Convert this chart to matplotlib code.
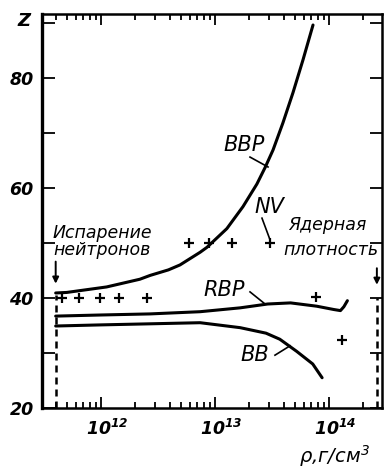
import numpy as np
import matplotlib
matplotlib.use('Agg')
import matplotlib.pyplot as plt
from matplotlib.transforms import ScaledTranslation

plt.rcParams.update({
    'font.family': 'DejaVu Sans',
    'mathtext.fontset': 'custom',
    'mathtext.rm': 'DejaVu Sans:italic:bold',
    'mathtext.it': 'DejaVu Sans:italic:bold',
    'mathtext.bf': 'DejaVu Sans:italic:bold',
})

# curves: density (g/cm^3) and Z
rho_bbp = [4.0e11, 5.0e11, 1.12e12, 2.19e12, 2.7e12, 3.9e12, 4.93e12, 7.4e12,
           8.5e12, 1.27e13, 1.76e13, 2.33e13, 2.75e13, 3.23e13, 3.94e13,
           4.83e13, 5.92e13, 7.24e13]
z_bbp = [40.9, 41.0, 42.0, 43.4, 44.1, 45.1, 46.0, 48.3,
         49.2, 52.6, 56.6, 60.7, 63.7, 66.9, 71.8,
         77.3, 83.3, 89.6]

rho_rbp = [4.0e11, 9.8e11, 2.7e12, 7.4e12, 1.66e13, 2.9e13, 4.6e13, 7.8e13,
           1.1e14, 1.26e14, 1.35e14, 1.45e14]
z_rbp = [36.7, 36.9, 37.1, 37.5, 38.2, 38.9, 39.1, 38.5, 37.9, 37.7, 38.4, 39.5]

rho_bb = [4.0e11, 9.8e11, 2.7e12, 7.4e12, 1.66e13, 2.8e13, 3.7e13, 5.2e13, 7.2e13, 8.7e13]
z_bb = [34.9, 35.1, 35.3, 35.5, 34.6, 33.6, 32.5, 30.3, 28.0, 25.5]

# NV points
rho_nv = [4.55e11, 6.4e11, 9.8e11, 1.44e12, 2.54e12,
          5.9e12, 8.9e12, 1.41e13, 3.03e13, 7.7e13, 1.3e14]
z_nv = [40, 40, 40, 40, 40, 50, 50, 50, 50, 40.2, 32.4]

rho_drip = 4.0e11      # neutron drip
rho_nuc = 2.63e14      # nuclear density

fig = plt.figure(figsize=(3.84, 4.69), dpi=100)
ax = fig.add_axes([42/384, 61/469, 340/384, 394/469])

lw = 2.2
ax.plot(rho_bbp, z_bbp, color='k', lw=lw, solid_capstyle='round', solid_joinstyle='round')
ax.plot(rho_rbp, z_rbp, color='k', lw=lw, solid_capstyle='round', solid_joinstyle='round')
ax.plot(rho_bb, z_bb, color='k', lw=lw, solid_capstyle='round', solid_joinstyle='round')
ax.plot(rho_nv, z_nv, ls='none', marker='+', ms=7, mew=1.6, color='k')

# dashed limits with arrows
dash = (0, (2.8, 2.0))
ax.plot([rho_drip, rho_drip], [20, 40.5], color='k', lw=1.8, ls=dash)
ax.plot([rho_nuc, rho_nuc], [20, 40.0], color='k', lw=1.8, ls=dash)
ap = dict(arrowstyle='-|>', lw=1.4, color='k', mutation_scale=9, shrinkA=0, shrinkB=0)
ax.annotate('', xy=(rho_drip, 42.6), xytext=(rho_drip, 46.6), arrowprops=ap)
ax.annotate('', xy=(rho_nuc, 42.4), xytext=(rho_nuc, 45.4), arrowprops=ap)

# labels and leaders
tk = dict(fontsize=15, style='italic', ha='center', va='center')
ax.text(1.8e13, 67.8, 'BBP', **tk)
ax.plot([10**13.307, 10**13.465], [65.6, 63.8], color='k', lw=1.2)
ax.text(2.98e13, 56.5, 'NV', **tk)
ax.plot([10**13.412, 10**13.482], [54.5, 50.6], color='k', lw=1.2)
ax.text(1.2e13, 41.5, 'RBP', **tk)
ax.plot([10**13.307, 10**13.439], [41.1, 38.9], color='k', lw=1.2)
ax.text(2.24e13, 29.6, 'BB', **tk)
ax.plot([10**13.526, 10**13.658], [29.6, 31.3], color='k', lw=1.2)

tn = dict(fontsize=12.5, style='italic', ha='center', va='center')
ax.text(1.02e12, 51.8, 'Испарение', **tn)
ax.text(1.02e12, 48.7, 'нейтронов', **tn)
ax.text(9.6e13, 53.2, 'Ядерная', **tn)
ax.text(1.04e14, 48.8, 'плотность', **tn)

ax.set_xscale('log')
ax.set_xlim(10**11.482, 10**14.465)
ax.set_ylim(20, 91.6)

ax.set_xticks([1e12, 1e13, 1e14])
ax.set_xticklabels([r'$10^{12}$', r'$10^{13}$', r'$10^{14}$'])
ax.set_yticks([20, 30, 40, 50, 60, 70, 80, 90])
ax.set_yticklabels(['20', '', '40', '', '60', '', '80', ''])

ax.tick_params(which='both', direction='in', top=True, right=True, width=1.3)
ax.tick_params(axis='x', which='major', length=8, pad=8, labelsize=12.5)
ax.tick_params(axis='x', which='minor', length=4)
ax.tick_params(axis='y', which='major', length=9, pad=6, labelsize=12.5)
for lab in ax.get_yticklabels():
    lab.set_fontweight('bold')
    lab.set_fontstyle('italic')
for lab in ax.get_xticklabels():
    lab.set_transform(lab.get_transform() + ScaledTranslation(6/100, 0, fig.dpi_scale_trans))

for s in ax.spines.values():
    s.set_linewidth(1.8)
ax.spines['left'].set_linewidth(2.4)

fig.text(24/384, 1 - 21/469, 'Z', fontsize=13, fontweight='bold', style='italic',
         ha='center', va='center')
fig.text(334/384, 1 - 456/469, r'ρ,г/см$^{\mathregular{3}}$', fontsize=14, style='italic',
         ha='center', va='center')

fig.savefig('out.png', dpi=100)
